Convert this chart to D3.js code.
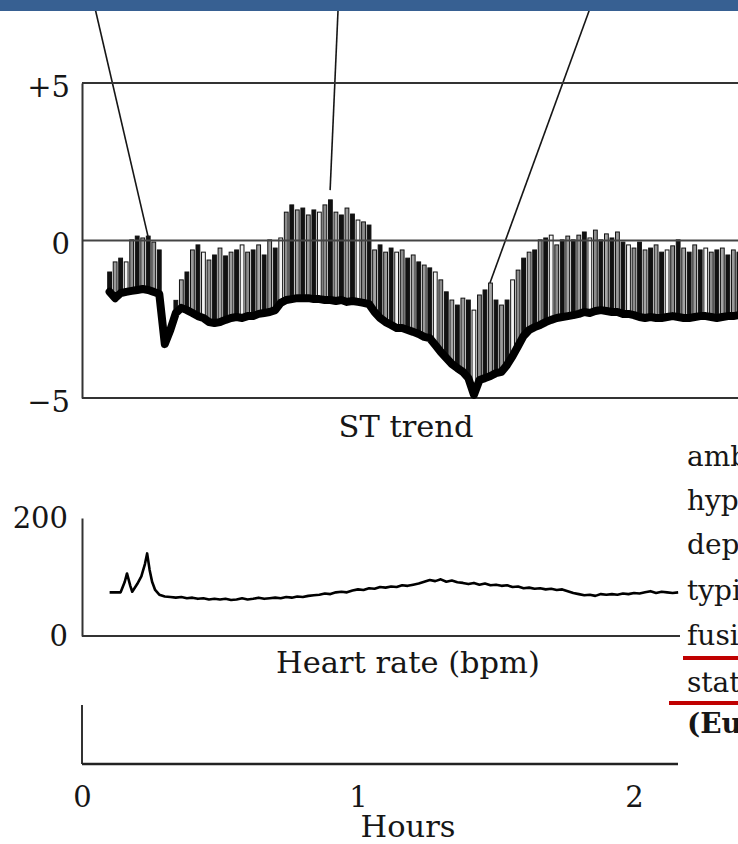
<!DOCTYPE html>
<html><head><meta charset="utf-8">
<script src="https://cdn.jsdelivr.net/npm/d3@7"></script>
<style>html,body{margin:0;padding:0;background:#fff;overflow:hidden}svg{display:block}</style>
</head><body>
<svg id="c" width="738" height="844"></svg>
<script>
// ---------- DATA ----------
const stTime = [0.10,0.12,0.14,0.16,0.18,0.20,0.22,0.24,0.26,0.28,
0.30,0.32,0.34,0.36,0.38,0.40,0.42,0.44,0.46,0.48,
0.50,0.52,0.54,0.56,0.58,0.60,0.62,0.64,0.66,0.68,
0.70,0.72,0.74,0.76,0.78,0.80,0.82,0.84,0.86,0.88,
0.90,0.92,0.94,0.96,0.98,1.00,1.02,1.04,1.06,1.08,
1.10,1.12,1.14,1.16,1.18,1.20,1.22,1.24,1.26,1.28,
1.30,1.32,1.34,1.36,1.38,1.40,1.42,1.44,1.46,1.48,
1.50,1.52,1.54,1.56,1.58,1.60,1.62,1.64,1.66,1.68,
1.70,1.72,1.74,1.76,1.78,1.80,1.82,1.84,1.86,1.88,
1.90,1.92,1.94,1.96,1.98,2.00,2.02,2.04,2.06,2.08,
2.10,2.12,2.14,2.16,2.18,2.20,2.22,2.24,2.26,2.28,
2.30,2.32,2.34,2.36,2.38];

// lower ST envelope (mV) – thick black trace
const stLow = [-1.63,-1.83,-1.67,-1.63,-1.60,-1.57,-1.54,-1.57,-1.63,-1.70,
-3.29,-2.84,-2.30,-2.14,-2.21,-2.30,-2.40,-2.46,-2.59,-2.62,
-2.59,-2.52,-2.46,-2.43,-2.46,-2.40,-2.40,-2.33,-2.30,-2.27,
-2.21,-1.98,-1.89,-1.86,-1.83,-1.83,-1.83,-1.86,-1.86,-1.89,
-1.89,-1.92,-1.89,-1.95,-1.92,-1.95,-1.98,-2.02,-2.27,-2.46,
-2.59,-2.68,-2.78,-2.78,-2.84,-2.90,-2.97,-3.06,-3.10,-3.32,
-3.54,-3.73,-3.92,-4.05,-4.17,-4.37,-4.90,-4.43,-4.37,-4.30,
-4.21,-4.17,-3.95,-3.67,-3.35,-3.03,-2.84,-2.75,-2.68,-2.59,
-2.52,-2.46,-2.43,-2.40,-2.37,-2.33,-2.27,-2.30,-2.24,-2.21,
-2.24,-2.27,-2.27,-2.33,-2.33,-2.37,-2.43,-2.46,-2.43,-2.46,
-2.46,-2.43,-2.40,-2.43,-2.46,-2.46,-2.43,-2.40,-2.40,-2.43,
-2.46,-2.43,-2.40,-2.40,-2.37];

// upper ST values (mV) – tops of the vertical bars
const stHigh = [-1.00,-0.68,-0.56,-0.68,0.02,0.14,0.08,0.14,-0.05,-0.30,
-3.29,-2.84,-1.90,-1.25,-1.00,-0.30,-0.14,-0.37,-0.62,-0.46,
-0.24,-0.49,-0.37,-0.30,-0.14,-0.37,-0.30,-0.14,-0.46,0.02,
-0.24,0.08,0.90,1.13,0.97,1.03,0.81,0.97,0.90,1.13,
1.29,0.90,0.81,1.03,0.84,0.65,0.59,0.49,-0.30,-0.14,
-0.37,-0.24,-0.37,-0.30,-0.56,-0.46,-0.68,-0.78,-0.87,-1.00,
-1.25,-1.63,-1.89,-2.05,-1.83,-1.89,-2.21,-1.73,-1.57,-1.35,
-1.89,-2.05,-1.89,-1.25,-0.94,-0.56,-0.37,-0.30,0.02,0.08,
0.17,-0.14,0.02,0.14,0.02,0.17,0.27,0.08,0.33,0.02,
0.21,0.08,0.27,-0.05,-0.14,-0.24,-0.05,-0.30,-0.24,-0.14,
-0.37,-0.30,-0.17,0.02,-0.24,-0.37,-0.14,-0.30,-0.24,-0.37,
-0.30,-0.24,-0.46,-0.30,-0.37];

const hrTime = [0.10,0.14,0.155,0.163,0.175,0.182,0.20,0.215,0.228,0.236,0.245,0.254,0.265,0.28,
0.30,0.32,0.34,0.36,0.38,0.40,0.42,0.44,0.46,0.48,
0.50,0.52,0.54,0.56,0.58,0.60,0.62,0.64,0.66,0.68,
0.70,0.72,0.74,0.76,0.78,0.80,0.82,0.84,0.86,0.88,
0.90,0.92,0.94,0.96,0.98,1.00,1.02,1.04,1.06,1.08,
1.10,1.12,1.14,1.16,1.18,1.20,1.22,1.24,1.26,1.28,
1.30,1.32,1.34,1.36,1.38,1.40,1.42,1.44,1.46,1.48,
1.50,1.52,1.54,1.56,1.58,1.60,1.62,1.64,1.66,1.68,
1.70,1.72,1.74,1.76,1.78,1.80,1.82,1.84,1.86,1.88,
1.90,1.92,1.94,1.96,1.98,2.00,2.02,2.04,2.06,2.08,
2.10,2.12,2.14,2.16];
const hrValue = [74,74,92,106,85,75,88,101,122,140,112,92,78,70,
67,66,65,66,64,65,63,64,62,63,
62,63,61,62,64,62,63,65,63,64,
65,64,66,65,67,66,68,69,70,72,
71,74,75,74,77,79,78,81,80,83,
82,84,83,86,85,87,89,92,95,93,
96,92,94,91,90,88,90,87,89,86,
87,85,86,83,84,81,82,80,81,79,
80,78,79,76,73,71,69,70,68,71,
70,71,70,72,71,73,72,74,76,73,
75,74,73,74];

const stTicks = [5, 0, -5];
const stTickLabels = ["+5", "0", "\u22125"];
const hrTicks = [0, 200];
const hourTicks = [0, 1, 2];

// annotation pointers: [source time at top edge, target time, target ST value]
const pointerFrom = [0.047, 0.928, 1.841];
const pointerToT = [0.239, 0.899, 1.478];
const pointerToV = [0.14, 1.60, -1.35];

const sideText = ["amb", "hyp", "dep", "typi", "fusi", "stat", "(Eu"];

// ---------- DRAW ----------
const svg = d3.select("#c");
const FONT = "DejaVu Serif";
const INK = "#161616";

const x = d3.scaleLinear().domain([0, 2.38]).range([82, 82 + 276 * 2.38]);
const yST = d3.scaleLinear().domain([-5, 5]).range([398, 83]);
const yHR = d3.scaleLinear().domain([0, 200]).range([636, 518]);

// annotation pointers
pointerFrom.forEach((t, i) => {
  svg.append("line")
    .attr("x1", x(t)).attr("y1", 8)
    .attr("x2", x(pointerToT[i])).attr("y2", yST(pointerToV[i]))
    .attr("stroke", INK).attr("stroke-width", 1.6);
});

// header bar
svg.append("rect").attr("x", 0).attr("y", 0).attr("width", 738).attr("height", 11).attr("fill", "#376092");

// ST panel frame
const frame = svg.append("g").attr("stroke", "#333").attr("stroke-width", 2);
frame.append("line").attr("x1", x(0)).attr("x2", 738).attr("y1", yST(5)).attr("y2", yST(5));
frame.append("line").attr("x1", x(0)).attr("x2", 738).attr("y1", yST(-5)).attr("y2", yST(-5));

// bars
const stData = stTime.map((t, i) => ({t, lo: stLow[i], hi: stHigh[i], i}));
const fills = ["#111", "#9a9a9a", "#111", "#f4f4f4", "#8c8c8c", "#111", "#a5a5a5"];
svg.append("g").selectAll("rect").data(stData).join("rect")
  .attr("x", d => x(d.t) - 1.9)
  .attr("width", 3.8)
  .attr("y", d => yST(d.hi))
  .attr("height", d => Math.max(0, yST(d.lo) - yST(d.hi)))
  .attr("fill", d => fills[d.i % fills.length])
  .attr("stroke", "#111").attr("stroke-width", 1);

// zero line
svg.append("line").attr("x1", x(0)).attr("x2", 738).attr("y1", yST(0)).attr("y2", yST(0))
  .attr("stroke", "#444").attr("stroke-width", 2);

// thick lower envelope
svg.append("path").datum(stData)
  .attr("d", d3.line().x(d => x(d.t)).y(d => yST(d.lo)))
  .attr("fill", "none").attr("stroke", "#000").attr("stroke-width", 8)
  .attr("stroke-linejoin", "round").attr("stroke-linecap", "round");

// ST axis
const axST = svg.append("g").attr("transform", `translate(${x(0)},0)`)
  .call(d3.axisLeft(yST).tickValues(stTicks).tickFormat((d, i) => stTickLabels[i]).tickSize(0).tickSizeOuter(0).tickPadding(12));
axST.select(".domain").attr("stroke", "#333").attr("stroke-width", 2);
axST.selectAll("text").attr("font-family", FONT).attr("font-size", 29).attr("fill", INK).attr("dy", "0.45em");

svg.append("text").attr("x", 406).attr("y", 437).attr("text-anchor", "middle")
  .attr("font-family", FONT).attr("font-size", 30.5).attr("fill", INK).text("ST trend");

// HR panel
const axHR = svg.append("g").attr("transform", `translate(${x(0)},0)`)
  .call(d3.axisLeft(yHR).tickValues(hrTicks).tickSize(0).tickSizeOuter(0).tickPadding(14));
axHR.select(".domain").attr("stroke", "#333").attr("stroke-width", 2);
axHR.selectAll("text").attr("font-family", FONT).attr("font-size", 29).attr("fill", INK);
svg.append("line").attr("x1", x(0)).attr("x2", 680).attr("y1", yHR(0)).attr("y2", yHR(0))
  .attr("stroke", "#333").attr("stroke-width", 2);

svg.append("path").datum(hrTime.map((t, i) => ({t, v: hrValue[i]})))
  .attr("d", d3.line().x(d => x(d.t)).y(d => yHR(d.v)))
  .attr("fill", "none").attr("stroke", "#000").attr("stroke-width", 2.6).attr("stroke-linejoin", "round");

svg.append("text").attr("x", 408).attr("y", 673).attr("text-anchor", "middle")
  .attr("font-family", FONT).attr("font-size", 30.5).attr("fill", INK).text("Heart rate (bpm)");

// bottom (hours) panel
svg.append("line").attr("x1", x(0)).attr("x2", x(0)).attr("y1", 705).attr("y2", 764)
  .attr("stroke", "#333").attr("stroke-width", 2);
svg.append("line").attr("x1", x(0)).attr("x2", 678).attr("y1", 764).attr("y2", 764)
  .attr("stroke", "#222").attr("stroke-width", 2.4);
const axH = svg.append("g").attr("transform", "translate(0,764)")
  .call(d3.axisBottom(x).tickValues(hourTicks).tickFormat(d3.format("d")).tickSize(0).tickPadding(22));
axH.select(".domain").remove();
axH.selectAll("text").attr("font-family", FONT).attr("font-size", 29).attr("fill", INK);

svg.append("text").attr("x", 408).attr("y", 837).attr("text-anchor", "middle")
  .attr("font-family", FONT).attr("font-size", 30.5).attr("fill", INK).text("Hours");

// side text column (cropped page text)
svg.append("rect").attr("x", 681).attr("y", 440).attr("width", 57).attr("height", 320).attr("fill", "#fff");
const baselines = [466, 510, 554, 600, 645, 692, 733];
sideText.forEach((s, i) => {
  svg.append("text").attr("x", 687).attr("y", baselines[i])
    .attr("font-family", FONT).attr("font-size", 28)
    .attr("font-weight", i === 6 ? "bold" : "normal")
    .attr("fill", INK).text(s);
});
svg.append("line").attr("x1", 683).attr("x2", 738).attr("y1", 658).attr("y2", 658)
  .attr("stroke", "#c00000").attr("stroke-width", 4);
svg.append("line").attr("x1", 669).attr("x2", 738).attr("y1", 703).attr("y2", 703)
  .attr("stroke", "#c00000").attr("stroke-width", 4);
</script>
</body></html>
